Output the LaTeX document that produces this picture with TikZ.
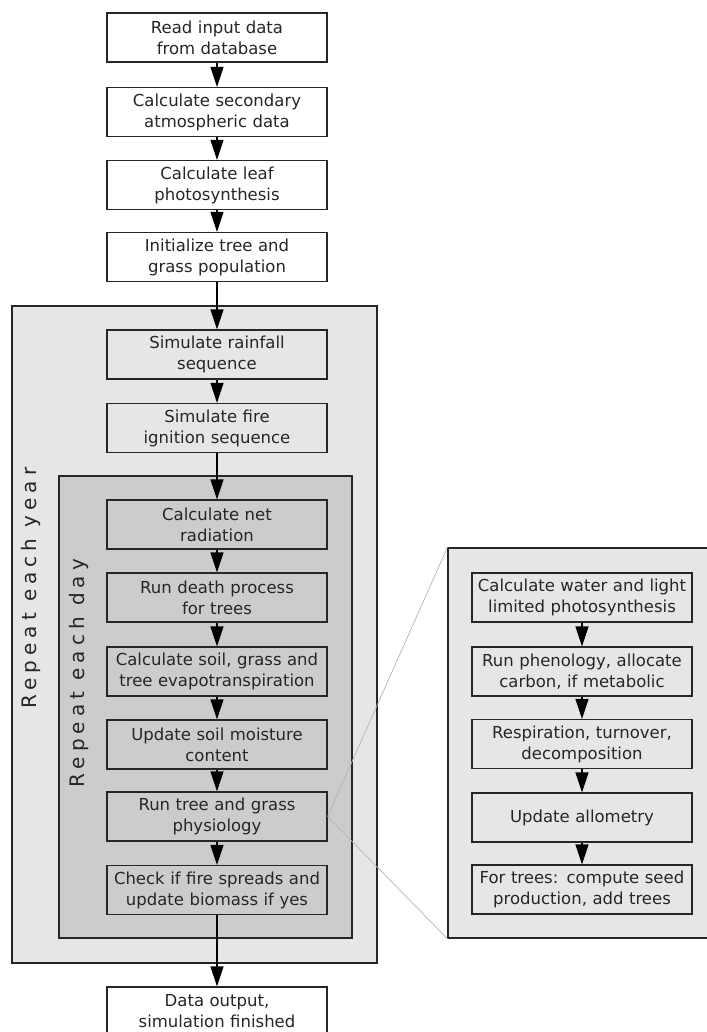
\documentclass[tikz,border=0pt]{standalone}
\usepackage{fontspec}
\setmainfont{DejaVu Sans}
\newfontfamily\spacedfont[LetterSpace=25]{DejaVu Sans}
\usepackage{xcolor}
\usetikzlibrary{arrows.meta}

\definecolor{yeargray}{HTML}{E6E6E6}
\definecolor{daygray}{HTML}{CCCCCC}
\definecolor{zoomgray}{HTML}{B4B4B4}

\begin{document}
\begin{tikzpicture}[x=1pt, y=-1pt,
    process/.style={rectangle, draw=black!85, line width=1.2pt, text=black!85,
                    minimum width=220pt, minimum height=49pt, inner sep=0pt,
                    text width=218pt, align=center, font=\fontsize{16.5}{21}\selectfont},
    start/.style={process, fill=white},
    yearbox/.style={rectangle, draw=black!85, line width=1.2pt, fill=yeargray, inner sep=0pt},
    daybox/.style={yearbox, fill=daygray},
    flow/.style={-{Triangle[length=20pt, width=13pt]}, line width=1.3pt},
    zoomline/.style={draw=zoomgray, line width=0.7pt},
    looplabel/.style={rotate=90, text=black!85, font=\spacedfont\fontsize{20}{24}\selectfont}
]
\useasboundingbox (0,0) rectangle (706,1032);

% Loop containers
\node[yearbox, minimum width=365pt, minimum height=657pt] (year) at (194.5,634.5) {};
\node[daybox, minimum width=293pt, minimum height=462pt] (day) at (205.5,707) {};
\node[yearbox, minimum width=264pt, minimum height=390pt] (detail) at (580,743) {};

\node[looplabel] (yearlabel) at (31,588) {Repeat each year};
\node[looplabel] (daylabel) at (79,673) {Repeat each day};

% Setup
\node[start] (read) at (217,37.5) {Read input data\\from database};
\node[start] (atmos) at (217,112) {Calculate secondary\\atmospheric data};
\node[start] (leaf) at (217,185) {Calculate leaf\\photosynthesis};
\node[start] (init) at (217,257) {Initialize tree and\\grass population};

% Yearly loop
\node[process] (rain) at (217,354.5) {Simulate rainfall\\sequence};
\node[process] (ignition) at (217,428) {Simulate fire\\ignition sequence};

% Daily loop
\node[process] (netrad) at (217,524.5) {Calculate net\\radiation};
\node[process] (death) at (217,597.5) {Run death process\\for trees};
\node[process] (evapo) at (217,671.5) {Calculate soil, grass and\\tree evapotranspiration};
\node[process] (moist) at (217,744.5) {Update soil moisture\\content};
\node[process] (physio) at (217,816.5) {Run tree and grass\\physiology};
\node[process] (firecheck) at (217,890) {Check if fire spreads and\\update biomass if yes};

\node[start] (output) at (217,1011.5) {Data output,\\simulation finished};

% Physiology detail
\node[process] (water) at (582,597.5) {Calculate water and light\\limited photosynthesis};
\node[process] (pheno) at (582,671.5) {Run phenology, allocate\\carbon, if metabolic};
\node[process] (resp) at (582,744) {Respiration, turnover,\\decomposition};
\node[process] (allom) at (582,817.5) {Update allometry};
\node[process] (seed) at (582,889.5) {For trees: compute seed\\production, add trees};

% Main flow
\draw[flow] (read) -- (atmos);
\draw[flow] (atmos) -- (leaf);
\draw[flow] (leaf) -- (init);
\draw[flow] (init) -- (rain);
\draw[flow] (rain) -- (ignition);
\draw[flow] (ignition) -- (netrad);
\draw[flow] (netrad) -- (death);
\draw[flow] (death) -- (evapo);
\draw[flow] (evapo) -- (moist);
\draw[flow] (moist) -- (physio);
\draw[flow] (physio) -- (firecheck);
\draw[flow] (firecheck) -- (output);

% Detail flow
\draw[flow] (water) -- (pheno);
\draw[flow] (pheno) -- (resp);
\draw[flow] (resp) -- (allom);
\draw[flow] (allom) -- (seed);

% Zoom lines
\draw[zoomline] (physio.east) -- (detail.north west);
\draw[zoomline] (physio.east) -- (detail.south west);

\end{tikzpicture}
\end{document}
